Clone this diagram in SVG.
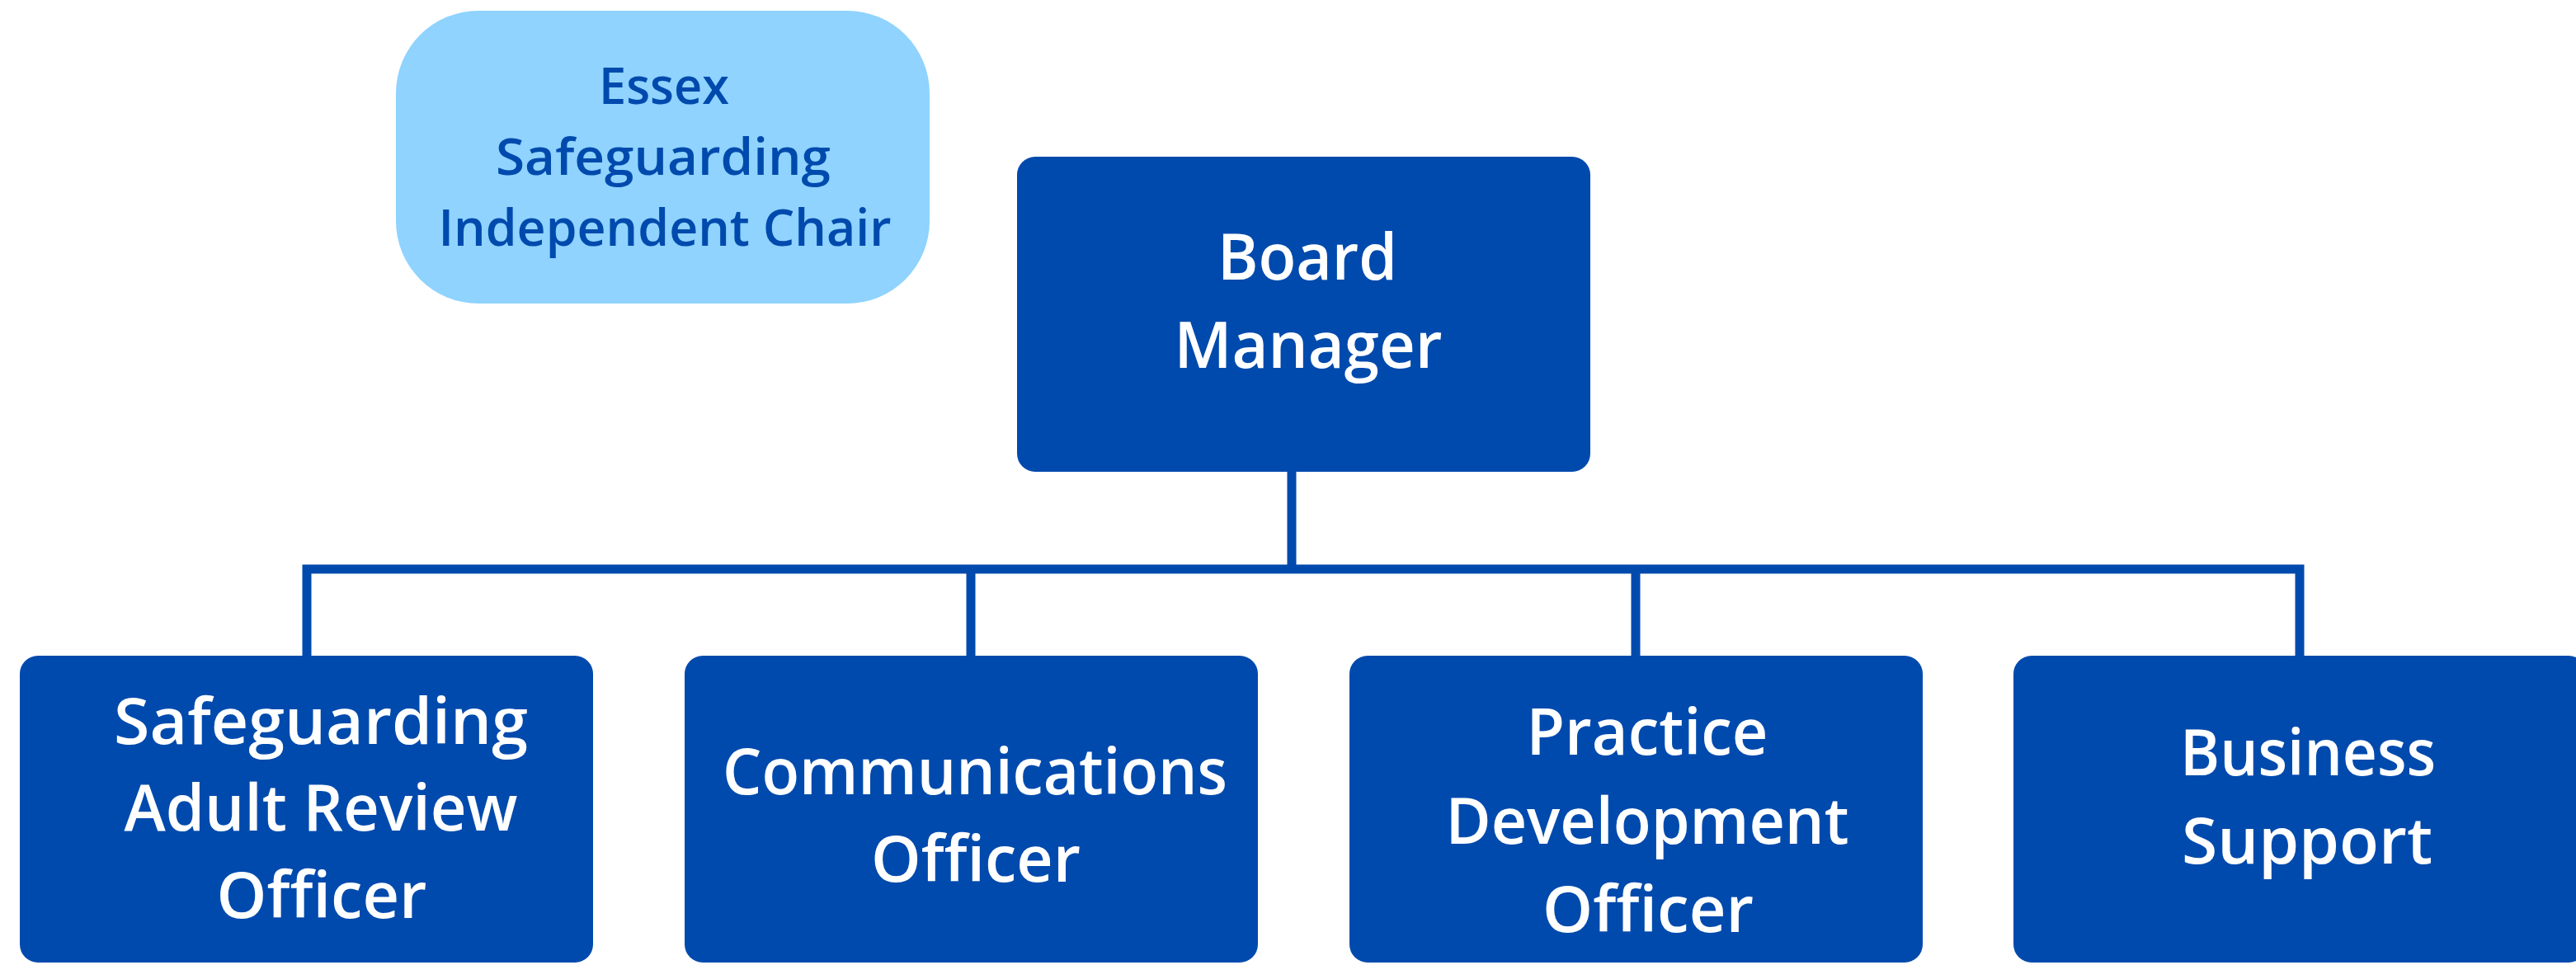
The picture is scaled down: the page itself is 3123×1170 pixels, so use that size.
<svg xmlns="http://www.w3.org/2000/svg" width="3123" height="1170" viewBox="0 0 3123 1170">
<style>
  .box { fill: #004AAD; }
  .chair { fill: #8FD3FE; }
  .t { font-family: "Open Sans", "Noto Sans", "Liberation Sans", sans-serif; font-weight: 600; text-anchor: middle; }
  .w { fill: #FFFFFF; font-size: 78px; }
  .d { fill: #004AAD; font-size: 61px; }
  .conn { fill: none; stroke: #004AAD; stroke-width: 11; stroke-linejoin: miter; stroke-linecap: butt; }
</style>
<rect width="3123" height="1170" fill="#FFFFFF"/>
<g id="connectors">
  <path class="conn" d="M1566 572 V690"/>
  <path class="conn" d="M372 796 V690 H2788 V796"/>
  <path class="conn" d="M1177 690 V796"/>
  <path class="conn" d="M1983 690 V796"/>
</g>
<g id="chair">
  <rect class="chair" x="480" y="13" width="647" height="355" rx="100" ry="100"/>
  <text class="t d" x="805" y="126" textLength="158" lengthAdjust="spacingAndGlyphs">Essex</text>
  <text class="t d" x="804" y="212" textLength="406" lengthAdjust="spacingAndGlyphs">Safeguarding</text>
  <text class="t d" x="806" y="298" textLength="549" lengthAdjust="spacingAndGlyphs">Independent Chair</text>
</g>
<g id="board-manager">
  <rect class="box" x="1233" y="190" width="695" height="382" rx="22" ry="22"/>
  <text class="t w" x="1585" y="339" textLength="218" lengthAdjust="spacingAndGlyphs">Board</text>
  <text class="t w" x="1586" y="446" textLength="325" lengthAdjust="spacingAndGlyphs">Manager</text>
</g>
<g id="sar-officer">
  <rect class="box" x="24" y="795" width="695" height="372" rx="22" ry="22"/>
  <text class="t w" x="389" y="902" textLength="502" lengthAdjust="spacingAndGlyphs">Safeguarding</text>
  <text class="t w" x="389" y="1007" textLength="477" lengthAdjust="spacingAndGlyphs">Adult Review</text>
  <text class="t w" x="390" y="1113" textLength="255" lengthAdjust="spacingAndGlyphs">Officer</text>
</g>
<g id="communications-officer">
  <rect class="box" x="830" y="795" width="695" height="372" rx="22" ry="22"/>
  <text class="t w" x="1182" y="963" textLength="612" lengthAdjust="spacingAndGlyphs">Communications</text>
  <text class="t w" x="1183" y="1069" textLength="254" lengthAdjust="spacingAndGlyphs">Officer</text>
</g>
<g id="practice-development-officer">
  <rect class="box" x="1636" y="795" width="695" height="372" rx="22" ry="22"/>
  <text class="t w" x="1997" y="915" textLength="293" lengthAdjust="spacingAndGlyphs">Practice</text>
  <text class="t w" x="1997" y="1023" textLength="489" lengthAdjust="spacingAndGlyphs">Development</text>
  <text class="t w" x="1998" y="1130" textLength="256" lengthAdjust="spacingAndGlyphs">Officer</text>
</g>
<g id="business-support">
  <rect class="box" x="2441" y="795" width="695" height="372" rx="22" ry="22"/>
  <text class="t w" x="2798" y="940" textLength="310" lengthAdjust="spacingAndGlyphs">Business</text>
  <text class="t w" x="2797" y="1047" textLength="304" lengthAdjust="spacingAndGlyphs">Support</text>
</g>
</svg>
